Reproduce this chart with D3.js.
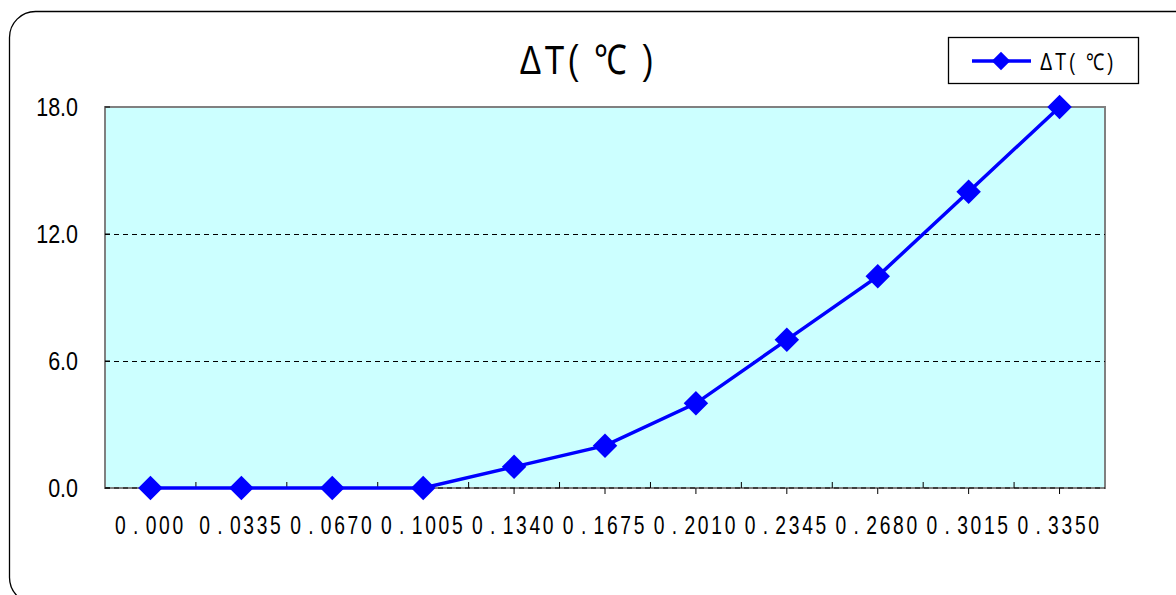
<!DOCTYPE html>
<html>
<head>
<meta charset="utf-8">
<script src="https://cdn.jsdelivr.net/npm/d3@7"></script>
<style>
  html, body { margin: 0; padding: 0; background: #fff; }
  svg { display: block; }
</style>
</head>
<body>
<div id="chart"></div>
<script>
// chart values
const categories = ['0.000', '0.0335', '0.0670', '0.1005', '0.1340', '0.1675', '0.2010', '0.2345', '0.2680', '0.3015', '0.3350'];
const deltaT = [0, 0, 0, 0, 1, 2, 4, 7, 10, 14, 18];
const yTicks = [0, 6, 12, 18];
const seriesName = 'ΔT( ℃)';

const width = 1176;
const height = 595;
const plot = {left: 105, top: 107, right: 1105, bottom: 488};
const FONT = 'Liberation Sans, Arial, sans-serif';

const svg = d3.select('#chart')
  .append('svg')
  .attr('width', width)
  .attr('height', height);

// narrow-looking text: glyphs squeezed horizontally like the original Gulim font
function narrowText(parent, x, y, str, opts) {
  const g = parent.append('g')
    .attr('transform', `translate(${x},${y}) scale(${opts.sx},1)`);
  return g.append('text')
    .attr('text-anchor', opts.anchor || 'start')
    .attr('font-family', FONT)
    .attr('font-size', opts.size)
    .attr('letter-spacing', opts.spacing || 0)
    .attr('fill', '#000')
    .text(str);
}

// outer rounded frame (runs off the right and bottom edges)
svg.append('rect')
  .attr('x', 9.5).attr('y', 11.5)
  .attr('width', 1220).attr('height', 592)
  .attr('rx', 26).attr('ry', 26)
  .attr('fill', 'none')
  .attr('stroke', '#000')
  .attr('stroke-width', 1.3);

const x = d3.scaleBand()
  .domain(categories)
  .range([plot.left, plot.right])
  .paddingInner(0).paddingOuter(0);
const cx = d => x(d) + x.bandwidth() / 2;

const y = d3.scaleLinear()
  .domain([0, 18])
  .range([plot.bottom, plot.top]);

// plot background
svg.append('rect')
  .attr('x', plot.left).attr('y', plot.top)
  .attr('width', plot.right - plot.left)
  .attr('height', plot.bottom - plot.top)
  .attr('fill', '#ccffff')
  .attr('stroke', '#808080')
  .attr('stroke-width', 2);

// dashed gridlines
svg.append('g')
  .selectAll('line')
  .data(yTicks.filter(d => d > 0 && d < 18))
  .enter().append('line')
  .attr('x1', plot.left).attr('x2', plot.right)
  .attr('y1', d => y(d) + 0.5).attr('y2', d => y(d) + 0.5)
  .attr('stroke', '#000')
  .attr('stroke-width', 1)
  .attr('stroke-dasharray', '5,4');

// x axis line (dashed over the grey border)
svg.append('line')
  .attr('x1', plot.left).attr('x2', plot.right)
  .attr('y1', y(0)).attr('y2', y(0))
  .attr('stroke', '#000')
  .attr('stroke-width', 1)
  .attr('stroke-dasharray', '5,4');

// y labels
const yLab = svg.append('g');
yTicks.forEach(d => {
  narrowText(yLab, 78, y(d) + 9, d.toFixed(1), {sx: 0.86, size: 25, anchor: 'end'});
});

// y tick marks
svg.append('g')
  .selectAll('line')
  .data(yTicks)
  .enter().append('line')
  .attr('x1', plot.left).attr('x2', plot.left + 5)
  .attr('y1', d => y(d)).attr('y2', d => y(d))
  .attr('stroke', '#000');

// x tick marks: inside at category boundaries, outside at centres
const xTicks = svg.append('g');
xTicks.selectAll('line.in')
  .data(categories.slice(1))
  .enter().append('line')
  .attr('class', 'in')
  .attr('x1', d => x(d)).attr('x2', d => x(d))
  .attr('y1', y(0)).attr('y2', y(0) - 6)
  .attr('stroke', '#000');
xTicks.selectAll('line.out')
  .data(categories)
  .enter().append('line')
  .attr('class', 'out')
  .attr('x1', cx).attr('x2', cx)
  .attr('y1', y(0)).attr('y2', y(0) + 6)
  .attr('stroke', '#000');

// x labels
const xLab = svg.append('g');
categories.forEach(c => {
  const t = narrowText(xLab, cx(c), 534, '', {sx: 0.77, size: 25, anchor: 'middle', spacing: 3.5});
  const parts = c.split('.');
  t.append('tspan').text(parts[0]);
  t.append('tspan').attr('dx', 6).text('.');
  t.append('tspan').attr('dx', 6).text(parts[1]);
});

// series line
const line = d3.line()
  .x((d, i) => cx(categories[i]))
  .y(d => y(d));

svg.append('path')
  .datum(deltaT)
  .attr('d', line)
  .attr('fill', 'none')
  .attr('stroke', '#0000ff')
  .attr('stroke-width', 3.5);

const diamond = d3.symbol().type(d3.symbolSquare).size(300);
svg.append('g')
  .selectAll('path')
  .data(deltaT)
  .enter().append('path')
  .attr('d', diamond)
  .attr('transform', (d, i) => `translate(${cx(categories[i])},${y(d)}) rotate(45)`)
  .attr('fill', '#0000ff');

// title
narrowText(svg, 588, 74, 'ΔT( ℃ )', {sx: 0.8, size: 41, anchor: 'middle', spacing: 4});

// legend
const legend = svg.append('g');
legend.append('rect')
  .attr('x', 948.5).attr('y', 37.5)
  .attr('width', 190).attr('height', 46)
  .attr('fill', '#fff')
  .attr('stroke', '#000')
  .attr('stroke-width', 1.3);
legend.append('line')
  .attr('x1', 972).attr('x2', 1031)
  .attr('y1', 61).attr('y2', 61)
  .attr('stroke', '#0000ff')
  .attr('stroke-width', 3.5);
legend.append('path')
  .attr('d', d3.symbol().type(d3.symbolSquare).size(170))
  .attr('transform', 'translate(1001,61) rotate(45)')
  .attr('fill', '#0000ff');
narrowText(legend, 1040, 70, seriesName, {sx: 0.8, size: 23, spacing: 3.5});
</script>
</body>
</html>
